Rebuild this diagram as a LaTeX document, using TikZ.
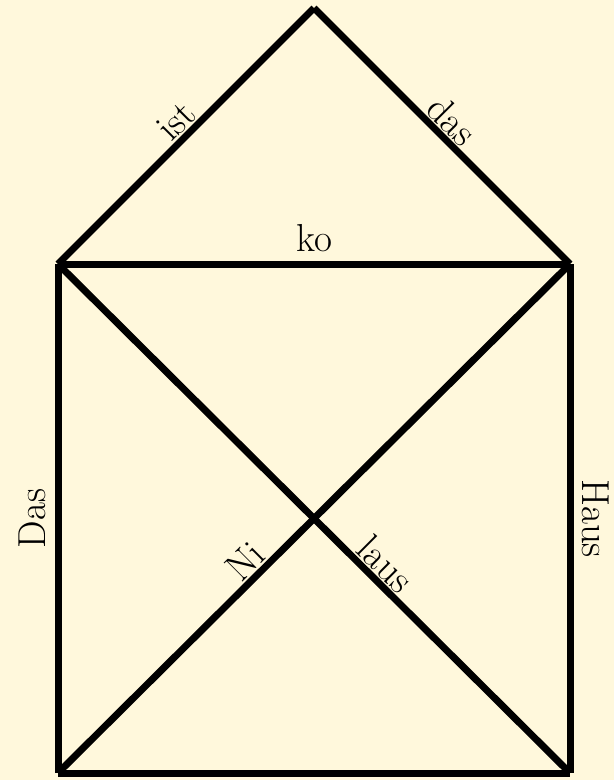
\documentclass[tikz,border=0pt]{standalone}
\definecolor{bgcream}{RGB}{255,248,220}
\tikzset{
  edge/.style={line width=7pt, black},
  lbl/.style={font=\fontsize{39}{45}\selectfont, inner sep=8.5pt, sloped, above, pos=#1},
  lbl/.default=0.5,
  dlbl/.style={lbl=#1, inner sep=1.5pt},
  dlbl/.default=0.5
}
\begin{document}
\begin{tikzpicture}[x=1pt,y=-1pt]
  \fill[bgcream] (0,0) rectangle (614,780);
  \useasboundingbox (0,0) rectangle (614,780);
  \coordinate (BL) at (58,773);
  \coordinate (BR) at (570,773);
  \coordinate (TL) at (58,264);
  \coordinate (TR) at (570,264);
  \coordinate (A)  at (314,8);
  \draw[edge] (BL) -- node[lbl] (das1) {Das} (TL);
  \draw[edge] (TL) -- node[dlbl=0.51] (ist) {ist} (A);
  \draw[edge] (A) -- node[dlbl=0.49] (das2) {das} (TR);
  \draw[edge] (TR) -- node[lbl] (haus) {Haus} (BR);
  \draw[edge] (TL) -- node[lbl] (ko) {ko} (TR);
  \draw[edge] (BL) -- node[dlbl=0.39] (ni) {Ni} (TR);
  \draw[edge] (TL) -- node[dlbl=0.615] (laus) {laus} (BR);
  \draw[edge] (BL) -- (BR);
\end{tikzpicture}
\end{document}
